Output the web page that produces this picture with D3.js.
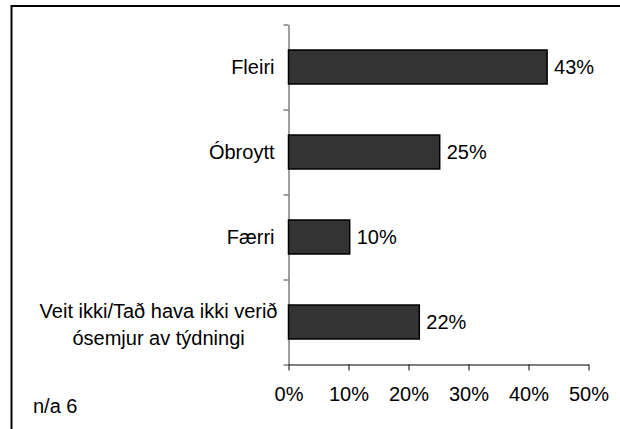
<!DOCTYPE html>
<html>
<head>
<meta charset="utf-8">
<script src="https://cdn.jsdelivr.net/npm/d3@7"></script>
<style>
  html, body { margin: 0; padding: 0; background: #fff; }
  svg { display: block; }
  text { font-family: "Liberation Sans", Arial, Helvetica, sans-serif; fill: #000; }
</style>
</head>
<body>
<svg id="chart" width="620" height="429"></svg>
<script>
const categories = ["Fleiri", "Óbroytt", "Færri", "Veit ikki/Tað hava ikki verið\nósemjur av týdningi"];
const values = [43.1, 25.2, 10.2, 21.8];
const valueLabels = ["43%", "25%", "10%", "22%"];
const xTicks = [0, 10, 20, 30, 40, 50];
const xTickLabels = ["0%", "10%", "20%", "30%", "40%", "50%"];
const note = "n/a 6";

const W = 620, H = 429;
const margin = { left: 288.5, right: 31.5, top: 24.5, bottom: 64.5 };
const plotW = W - margin.left - margin.right;
const plotH = H - margin.top - margin.bottom;
const fontSize = 20;

const svg = d3.select("#chart");

// outer frame (only top & left visible)
svg.append("path")
  .attr("d", `M11.5,${H + 5} L11.5,6 L${W + 5},6`)
  .attr("fill", "none").attr("stroke", "#000").attr("stroke-width", 2);

const g = svg.append("g").attr("transform", `translate(${margin.left},${margin.top})`);

const x = d3.scaleLinear().domain([0, 50]).range([0, plotW]);
const y = d3.scaleBand().domain(d3.range(categories.length)).range([0, plotH])
  .paddingInner(0.6).paddingOuter(0.3);
const yEdges = d3.scaleLinear().domain([0, categories.length]).range([0, plotH]);

// y axis (ticks at category boundaries)
const yAxis = g.append("g").call(d3.axisLeft(yEdges).tickValues(d3.range(categories.length + 1))
  .tickFormat("").tickSize(5).tickSizeOuter(0));
yAxis.select(".domain").attr("stroke", "#808080").attr("stroke-width", 1.5);
yAxis.selectAll(".tick line").attr("stroke", "#404040").attr("stroke-width", 1);

// x axis
const xAxis = g.append("g").attr("transform", `translate(0,${plotH})`)
  .call(d3.axisBottom(x).tickValues(xTicks).tickFormat((d, i) => xTickLabels[i]).tickSize(6).tickSizeOuter(0));
xAxis.select(".domain").attr("stroke", "#000").attr("stroke-width", 1.2);
xAxis.selectAll(".tick line").attr("stroke", "#000").attr("stroke-width", 1);
xAxis.selectAll(".tick text").attr("font-size", fontSize).attr("y", 22).attr("dy", "0.71em")
  .attr("font-family", "Liberation Sans, Arial, sans-serif").attr("fill", "#000");

// bars
g.selectAll("rect.bar").data(values).join("rect")
  .attr("class", "bar")
  .attr("x", 0)
  .attr("y", (d, i) => y(i))
  .attr("width", d => x(d))
  .attr("height", y.bandwidth())
  .attr("fill", "#333333")
  .attr("stroke", "#000")
  .attr("stroke-width", 1.5);

// value labels
g.selectAll("text.val").data(values).join("text")
  .attr("class", "val")
  .attr("x", d => x(d) + 7)
  .attr("y", (d, i) => y(i) + y.bandwidth() / 2)
  .attr("dy", "0.35em")
  .attr("font-size", fontSize)
  .text((d, i) => valueLabels[i]);

// category labels
const labelRight = -14;
categories.forEach((c, i) => {
  const lines = c.split("\n");
  const cy = y(i) + y.bandwidth() / 2;
  if (lines.length === 1) {
    g.append("text").attr("x", labelRight).attr("y", cy).attr("dy", "0.35em")
      .attr("text-anchor", "end").attr("font-size", fontSize).text(c);
  } else {
    const lh = 27;
    const t = g.append("text").attr("font-size", fontSize).attr("text-anchor", "middle");
    const spans = lines.map((l, k) => t.append("tspan").attr("y", cy + (k - (lines.length - 1) / 2) * lh + 2)
      .attr("dy", "0.35em").text(l));
    const maxW = d3.max(spans, s => s.node().getComputedTextLength());
    spans.forEach(s => s.attr("x", labelRight + 3 - maxW / 2));
  }
});

// note
svg.append("text").attr("x", 33).attr("y", 413).attr("font-size", fontSize).text(note);
</script>
</body>
</html>
